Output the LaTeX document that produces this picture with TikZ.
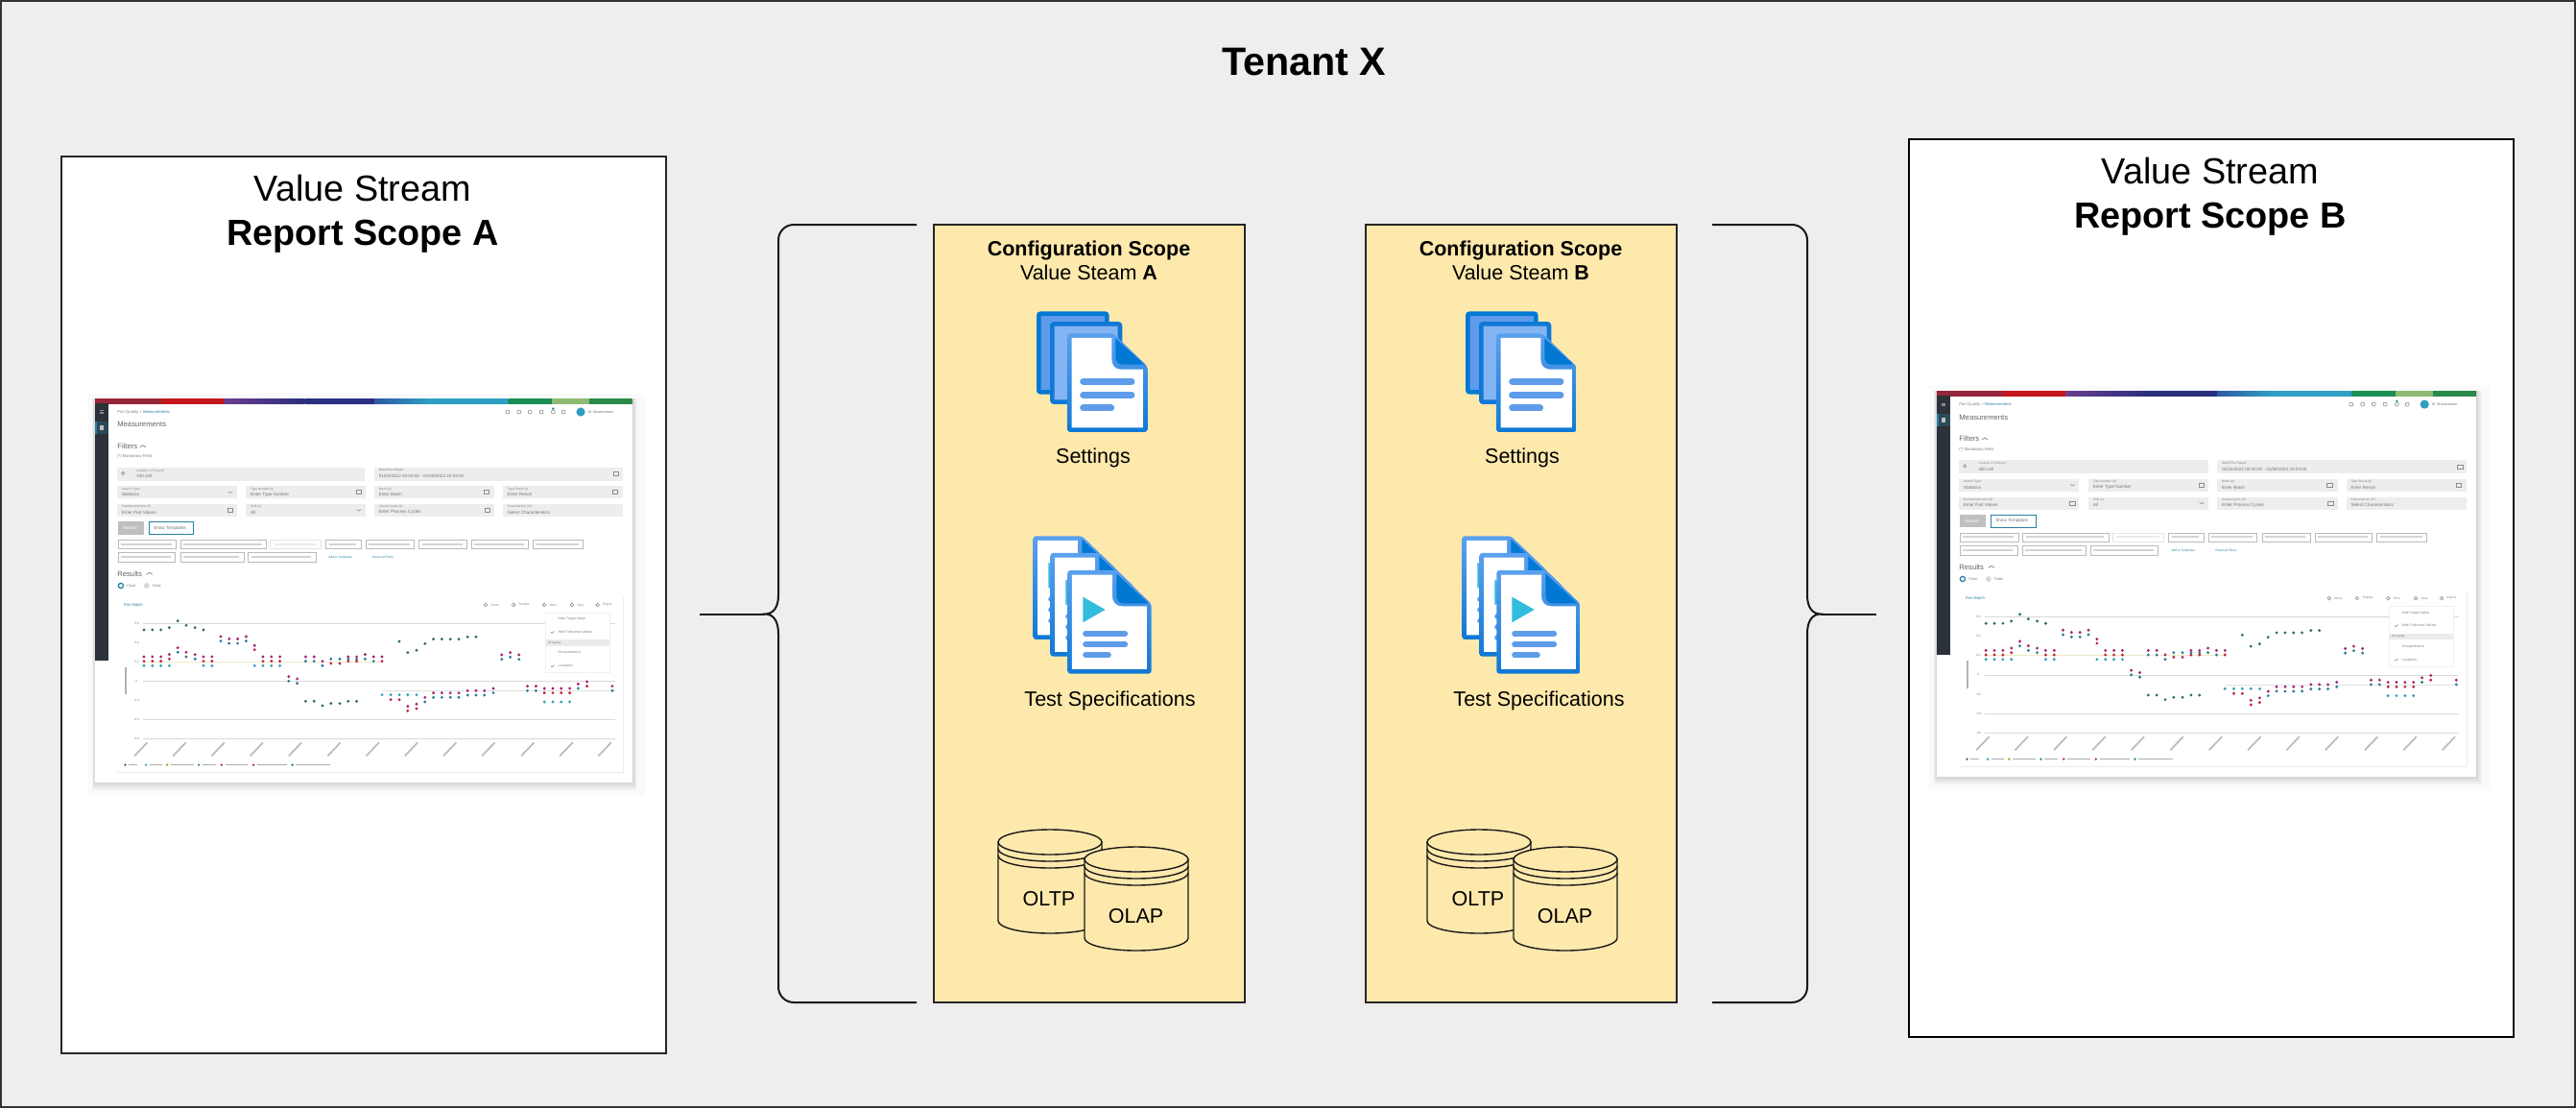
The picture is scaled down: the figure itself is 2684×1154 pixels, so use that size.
\documentclass[tikz,border=0pt]{standalone}
\usepackage{fontspec}
\setmainfont{Liberation Sans}
\definecolor{pagegray}{HTML}{EEEEEE}
\definecolor{scopeyellow}{HTML}{FEE9AC}
\definecolor{azuredark}{HTML}{0078D4}
\definecolor{azuretop}{HTML}{5BA0EE}
\definecolor{azurebot}{HTML}{0F78D6}
\definecolor{sheetback}{HTML}{5F9BEB}
\definecolor{sheetmid}{HTML}{83B4F3}
\definecolor{sheetline}{HTML}{5E9CEA}
\definecolor{playcyan}{HTML}{32BCDD}
\definecolor{stripa}{HTML}{96263C}
\definecolor{stripb}{HTML}{C4161C}
\definecolor{stripc}{HTML}{6B3D8F}
\definecolor{stripd}{HTML}{2A2F7E}
\definecolor{stripe}{HTML}{2C5AA0}
\definecolor{stripf}{HTML}{2E9FC5}
\definecolor{stripg}{HTML}{1B8E55}
\definecolor{striph}{HTML}{8DBB72}
\definecolor{stripi}{HTML}{2A8A4B}
\definecolor{shotdark}{HTML}{2B3239}
\definecolor{shotfield}{HTML}{EDEDED}
\definecolor{shotteal}{HTML}{2B7FA5}
\definecolor{dotgreen}{HTML}{2E6B66}
\definecolor{dotcyan}{HTML}{2F9EBD}
\definecolor{dotblue}{HTML}{2A7A9A}
\definecolor{dotred}{HTML}{C0203C}
\definecolor{dotpink}{HTML}{A8206E}
\tikzset{
  panelbox/.style={draw=black!85,fill=white},
  scopebox/.style={draw=black!85,fill=scopeyellow,line width=2pt},
  curlyline/.style={draw=black!90,line width=2pt},
  cylline/.style={draw=black!90,fill=scopeyellow,line width=1.4pt},
  toptext/.style={anchor=base,inner sep=0pt,font=\fontsize{41.2}{44}\selectfont\bfseries},
  paneltext/.style={anchor=base,inner sep=0pt,font=\fontsize{37.8}{42}\selectfont},
  scopetext/.style={anchor=base,inner sep=0pt,font=\fontsize{21.5}{25}\selectfont},
  shotbig/.style={anchor=west,inner sep=0pt,text=black!60,font=\fontsize{7.7}{9}\selectfont},
  shotsm/.style={anchor=west,inner sep=0pt,text=black!55,font=\fontsize{4.6}{5}\selectfont},
  shotxs/.style={anchor=west,inner sep=0pt,text=black!50,font=\fontsize{3.2}{4}\selectfont},
  shotbar/.style={black!22,line width=2.4pt},
  shotgrid/.style={black!15,line width=.6pt},
  shoticon/.style={black!45,line width=.6pt},
}
% a stack of pages with a folded corner, in the units of a scope
\newcommand{\settingsicon}{
  \fill[sheetback,draw=azuredark,line width=4.6pt,rounded corners=2pt] (367,320) rectangle (580,565);
  \fill[sheetmid,draw=azurebot,line width=4.6pt,rounded corners=2pt] (409,352) rectangle (621,596);
  \shade[top color=azuretop,bottom color=azurebot,rounded corners=3pt] (456,382) -- (600,382) -- (707,485) -- (707,690) -- (456,690) -- cycle;
  \fill[white] (470,396) -- (595,396) -- (595,462) .. controls (595,482) and (605,494) .. (625,494) -- (693,494) -- (693,676) -- (470,676) -- cycle;
  \fill[azuredark] (607,397) -- (697,479) -- (630,479) .. controls (615,479) and (607,470) .. (607,455) -- cycle;
  \foreach \v/\e in {532/657,574/657,615/593}
    \draw[sheetline,line width=7pt,line cap=round] (506,\v) -- (\e,\v);
}
\newcommand{\testicon}{
  \foreach \a/\b in {349/1015,403/1068,457/1122}{
    \begin{scope}[shift={(\a,\b)}]
    \shade[top color=azuretop,bottom color=azurebot,rounded corners=3pt] (0,0) -- (153,0) -- (262,105) -- (262,323) -- (0,323) -- cycle;
    \fill[white] (14,14) -- (140,14) -- (140,78) .. controls (140,100) and (150,112) .. (172,112) -- (248,112) -- (248,309) -- (14,309) -- cycle;
    \fill[azuredark] (153,10) -- (252,103) -- (175,103) .. controls (160,103) and (153,92) .. (153,75) -- cycle;
    \fill[playcyan] (48,83) -- (118,123) -- (48,163) -- cycle;
    \foreach \v/\e in {198/180,231/180,265/128}
      \draw[sheetline,line width=5.6pt,line cap=round] (56,\v) -- (\e,\v);
    \end{scope}
  }
}
% one database drum: centre x, top y
\newcommand{\dbdrum}[2]{
  \path[cylline] (#1-54,#2+13) -- (#1-54,#2+95) arc[start angle=180,end angle=0,x radius=54,y radius=13] -- (#1+54,#2+13) -- cycle;
  \draw[cylline,fill=none] (#1-54,#2+20) arc[start angle=180,end angle=0,x radius=54,y radius=13];
  \draw[cylline,fill=none] (#1-54,#2+27) arc[start angle=180,end angle=0,x radius=54,y radius=13];
  \path[cylline] (#1,#2+13) ellipse[x radius=54,y radius=13];
}
% yellow column: name, letter, shift of box, shift of contents
\newcommand{\configcol}[4]{
  \node[scopebox,minimum width=324pt,minimum height=810pt,inner sep=0pt] (#1box) at (1135+#3,639) {};
  \node[scopetext,font=\fontsize{21.5}{25}\selectfont\bfseries] (#1title) at (1134.5+#3,266.5) {Configuration Scope};
  \node[scopetext] (#1sub) at (1134.5+#3,291.5) {Value Steam \textbf{#2}};
  \begin{scope}[xshift=#4pt]
  \begin{scope}[shift={(960,220)},x=.3333pt,y=-.3333pt]
  \settingsicon
  \testicon
  \end{scope}
  \node[scopetext] (#1set) at (1139,482) {Settings};
  \node[scopetext] (#1spec) at (1156.5,735) {Test Specifications};
  \dbdrum{1094}{864}
  \node[scopetext] (#1oltp) at (1093,943) {OLTP};
  \dbdrum{1184}{882}
  \node[scopetext] (#1olap) at (1183.5,961.5) {OLAP};
  \end{scope}
}
\newcommand{\shotdots}[2]{
  \foreach \a/\b in {#2} \fill[#1] (\a,\b) circle[radius=1.6pt];
}
% the report screenshot: name, origin x, origin y, unit x, unit y
\newcommand{\shotview}[5]{
  \begin{scope}[shift={(#2,#3)},x=#4pt,y=-#5pt]
  \fill[black!2] (28,60) rectangle (1548,1315);
  \foreach \d in {1,...,6}
    \fill[black,opacity=.022] (50-1.5*\d,75) rectangle (1512+2.5*\d,1275+4*\d);
  \fill[white] (50,75) rectangle (1512,1275);
  \foreach \a/\b/\c/\d in {50/230/stripa/stripa,230/400/stripb/stripb,400/620/stripc/stripd,620/810/stripd/stripd,810/960/stripe/stripf,960/1175/stripf/stripf,1175/1295/stripg/stripg,1295/1395/striph/striph,1395/1512/stripi/stripi}
    \shade[left color=\c,right color=\d] (\a,75) rectangle (\b,90);
  \fill[shotdark] (50,90) rectangle (87,895);
  \fill[shotdark!70!shotteal] (50,148) rectangle (87,185);
  \fill[shotteal] (50,148) rectangle (54,185);
  \foreach \b in {113,117,121} \draw[black!45,line width=.5pt] (62,\b) -- (74,\b);
  \fill[black!25] (64,158) rectangle (73,173);
  \node[shotxs,font=\fontsize{4.2}{5}\selectfont] (#1crumb) at (110,117) {Part Quality > \textcolor{shotteal}{Measurements}};
  \node[shotbig] (#1head) at (110,157) {Measurements};
  \node[shotbig] (#1filt) at (110,224) {Filters};
  \node[shotxs,font=\fontsize{4.2}{5}\selectfont] (#1mand) at (110,257) {(*) Mandatory Field};
  \node[shotbig] (#1res) at (110,622) {Results};
  \foreach \a/\b in {172/224,190/622} \draw[shoticon,line width=.8pt] (\a,\b+3) -- (\a+8,\b-3) -- (\a+16,\b+3);
  \foreach \a in {1173,1204,1234,1265,1297,1325} \draw[shoticon] (\a,117) circle[radius=2pt];
  \fill[shotteal] (1297,107) circle[radius=1.3pt];
  \fill[dotcyan] (1372,117) circle[radius=4.6pt];
  \node[shotsm,font=\fontsize{3.8}{5}\selectfont] (#1user) at (1392,117) {M. Mustermann};
  % filter fields
  \foreach \a/\b/\c/\d/\lab/\val [count=\i] in {
      110/436/349/388/Search Type*/Statistics,
      461/786/349/388/Type Number (0)/Enter Type Number,
      810/1136/349/388/Batch (0)/Enter Batch,
      1160/1487/349/388/Type Result (0)/Enter Result,
      110/436/405/445/Part Manufacturer (0)/Enter Part Values,
      461/786/405/445/Shift (n)/All,
      810/1136/405/445/Assets Cycles (0)/Enter Process Cycles,
      1160/1487/405/445/Characteristic (0*)/Select Characteristics}{
    \fill[shotfield] (\a,\c) rectangle (\b,\d);
    \node[shotxs] (#1lab\i) at (\a+12,\c+9) {\lab};
    \node[shotsm] (#1val\i) at (\a+12,\c+26) {\val};
  }
  \fill[shotfield] (110,290) rectangle (785,333);
  \fill[shotfield] (810,290) rectangle (1487,333);
  \node[shotxs] (#1loclab) at (162,300) {Location or Process*};
  \node[shotsm] (#1locval) at (162,318) {350 cell};
  \node[shotxs] (#1datlab) at (822,300) {Date/Time Range*};
  \node[shotsm] (#1datval) at (822,318) {01/04/2022 00:00:00 - 01/08/2022 23:03:00};
  \draw[shoticon] (126,309) circle[radius=1.6pt];
  \foreach \a/\b in {1468/311,768/367,1115/367,1465/367,417/424,1117/424} \draw[shoticon] (\a-7,\b-6) rectangle (\a+7,\b+6);
  \foreach \a/\b in {418/368,768/424} \draw[shoticon] (\a-6,\b-2) -- (\a,\b+2) -- (\a+6,\b-2);
  % buttons and chips
  \fill[black!25] (112,460) rectangle (183,500);
  \node[shotsm,text=white] (#1search) at (126,480) {Search};
  \draw[shotteal,line width=.7pt] (197,460) rectangle (318,500);
  \node[shotsm] (#1templ) at (209,480) {Show Templates};
  \foreach \a/\b/\c/\d in {113/271/517/543,283/515/517/543,678/773/517/543,787/918/517/543,932/1062/517/543,1075/1230/517/543,1243/1378/517/543,113/268/556/585,282/454/556/585,467/650/556/585}{
    \draw[black!27,line width=.5pt] (\a,\c) rectangle (\b,\d);
    \draw[black!17,line width=2pt] (\a+8,\c/2+\d/2) -- (\b-12,\c/2+\d/2);
  }
  \draw[black!10,line width=.5pt] (527,517) rectangle (665,543);
  \draw[black!8,line width=2pt] (537,530) -- (653,530);
  \node[shotxs,text=shotteal] (#1add) at (685,571) {Add to Templates};
  \node[shotxs,text=shotteal] (#1reset) at (805,571) {Reset all Filters};
  % results
  \draw[shotteal,line width=1.3pt] (120,660) circle[radius=2.6pt];
  \fill[black!15] (190,660) circle[radius=3pt];
  \node[shotxs,font=\fontsize{3.8}{5}\selectfont] (#1chart) at (136,660) {Chart};
  \node[shotxs,font=\fontsize{3.8}{5}\selectfont] (#1table) at (205,660) {Table};
  \draw[black!8,line width=.6pt] (1487,700) -- (1487,1243) -- (110,1243);
  \node[shotxs,text=shotteal,font=\fontsize{4.2}{5}\selectfont] (#1batch) at (128,720) {Part Batch};
  \foreach \t/\a [count=\i] in {Zoom/1127,Tooltips/1203,Filter/1287,View/1362,Export/1432}{
    \node[shotxs] (#1tool\i) at (\a,720) {\t};
    \draw[shoticon] (\a-14,720) circle[radius=1.8pt];
  }
  % chart
  \foreach \v in {778,958,1078,1138} \draw[shotgrid] (180,\v) -- (1465,\v);
  \draw[green!30!orange!22,line width=.8pt] (180,898) -- (830,898);
  \draw[black!12,line width=.6pt] (830,988) -- (1465,988);
  \foreach \t/\v [count=\i] in {0.6/778,0.4/838,0.2/898,0/958,-0.2/1018,-0.4/1078,-0.6/1138}
    \node[shotxs,anchor=center] (#1ytick\i) at (163,\v) {\t};
  \draw[black!30,line width=1.6pt] (133,915) -- (133,1000);
  \foreach \a in {192,297,402,507,612,718,823,928,1033,1138,1245,1350,1455}
    \draw[black!26,line width=1.8pt] (\a,1150) -- (\a-35,1192);
  \shotdots{dotgreen}{183/798,206/798,229/798,252/791,275/770,298/784,322/791,345/798,623/1021,646/1021,669/1035,692/1028,716/1028,739/1021,762/1021,878/834,901/869,925/862,948/841,971/827,994/827,1017/827,1040/827,1064/820,1087/820}
  \shotdots{dotcyan}{183/910,206/910,229/910,252/910,345/910,368/910,484/910,507/910,530/910,553/910,831/1001,855/1001,878/1001,901/1001,925/1001,1273/1023,1296/1023,1319/1023,1342/1023}
  \shotdots{dotblue}{275/868,298/882,322/889,392/833,415/840,438/840,461/833,577/958,600/965,623/896,646/896,669/910,692/889,716/889,739/889,762/889,785/889,808/896,948/1023,971/1009,994/1009,1017/1009,1040/1009,1064/1002,1087/1002,1110/1002,1134/995,1157/890,1180/883,1204/890,1227/988,1250/988,1365/981,1458/988}
  \shotdots{dotred}{183/896,206/896,229/896,252/889,345/896,368/896,484/860,507/896,530/896,553/896,692/903,716/903,739/896,762/896,831/896,855/1016,878/1016,901/1051,925/1044,1273/995,1296/995,1319/995,1342/995,1389/974}
  \shotdots{dotpink}{183/882,206/882,229/882,252/875,275/854,298/868,322/875,345/882,368/882,392/819,415/826,438/826,461/819,484/847,507/882,530/882,553/882,577/944,600/951,623/882,646/882,669/896,739/882,762/882,785/875,808/882,831/882,901/1037,925/1030,948/1009,971/995,994/995,1017/995,1040/995,1064/988,1087/988,1110/988,1134/981,1157/876,1180/869,1204/876,1227/974,1250/974,1273/981,1296/981,1319/981,1342/981,1365/967,1389/960,1458/974}
  % view menu
  \fill[white,draw=black!6,line width=.5pt] (1275,745) rectangle (1450,932);
  \fill[black!8] (1275,829) rectangle (1450,848);
  \node[shotxs,font=\fontsize{3.6}{5}\selectfont] (#1hide1) at (1310,765) {Hide Target Value};
  \node[shotxs,font=\fontsize{3.6}{5}\selectfont] (#1hide2) at (1310,805) {Hide Tolerance Values};
  \node[shotxs] (#1group) at (1283,838) {Grouping};
  \node[shotxs,font=\fontsize{3.6}{5}\selectfont] (#1group1) at (1310,870) {Groupedmetric};
  \node[shotxs,font=\fontsize{3.6}{5}\selectfont] (#1group2) at (1310,911) {Locations};
  \foreach \b in {805,911} \draw[shoticon] (1290,\b) -- (1294,\b+3) -- (1300,\b-3);
  % legend
  \foreach \a/\e/\c in {132/165/dotgreen,188/232/dotcyan,246/318/green!50!orange,332/378/dotblue,394/465/dotred,481/572/dotpink,587/690/dotblue}{
    \fill[\c] (\a,1220) circle[radius=1.3pt];
    \draw[black!32,line width=1.6pt] (\a+10,1220) -- (\e,1220);
  }
  \end{scope}
}

\begin{document}
\begin{tikzpicture}[x=1pt,y=-1pt]
\useasboundingbox (0,0) rectangle (2684,1154);
\fill[pagegray,draw=black!80,line width=2pt] (1,1) rectangle (2683,1153);
\node[toptext] (tenant) at (1359,78.5) {Tenant X};

% report panels
\draw[panelbox,line width=1.6pt] (64,163) rectangle (694,1097);
\node[paneltext] (streamA) at (378,209) {Value Stream};
\node[paneltext,font=\fontsize{37.8}{42}\selectfont\bfseries] (reportA) at (378,255) {Report Scope A};
\shotview{a}{80}{390}{.3827}{.3333}

\draw[panelbox,draw=black,line width=2pt] (1988.5,144.5) rectangle (2618.5,1080);
\node[paneltext] (streamB) at (2303,191.5) {Value Stream};
\node[paneltext,font=\fontsize{37.8}{42}\selectfont\bfseries] (reportB) at (2303,237) {Report Scope B};
\shotview{b}{1998.8}{381.9}{.3844}{.335}

% configuration columns
\configcol{colA}{A}{0}{0}
\configcol{colB}{B}{450}{447}

% curly brackets
\coordinate (brAtop) at (955,234);
\coordinate (brAbot) at (955,1044);
\coordinate (brAknee) at (797,639.5);
\coordinate (brAtip) at (729,639.5);
\draw[curlyline,rounded corners=16pt] (brAtop) -- (811,234) -- (811,620);
\draw[curlyline,rounded corners=16pt] (brAbot) -- (811,1044) -- (811,660);
\draw[curlyline] (811,620) .. controls (811,632) and (806,639.5) .. (brAknee) .. controls (806,639.5) and (811,647) .. (811,660);
\draw[curlyline] (brAknee) -- (brAtip);

\coordinate (brBtop) at (1784,234);
\coordinate (brBbot) at (1784,1044);
\coordinate (brBknee) at (1897,639.5);
\coordinate (brBtip) at (1955,639.5);
\draw[curlyline,rounded corners=16pt] (brBtop) -- (1883,234) -- (1883,620);
\draw[curlyline,rounded corners=16pt] (brBbot) -- (1883,1044) -- (1883,660);
\draw[curlyline] (1883,620) .. controls (1883,632) and (1888,639.5) .. (brBknee) .. controls (1888,639.5) and (1883,647) .. (1883,660);
\draw[curlyline] (brBknee) -- (brBtip);
\end{tikzpicture}
\end{document}
